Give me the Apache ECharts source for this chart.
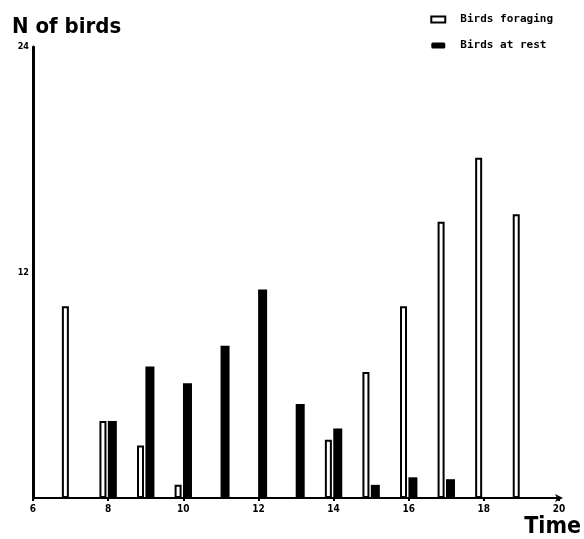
<!DOCTYPE html>
<html><head><meta charset="utf-8">
<script src="https://cdn.jsdelivr.net/npm/echarts@6/dist/echarts.min.js"></script>
<style>html,body{margin:0;padding:0;background:#fff}#c{width:584px;height:539px}</style>
</head><body><div id="c"></div>
<script>
const hours = [7, 8, 9, 10, 11, 12, 13, 14, 15, 16, 17, 18, 19];
const foraging = [10.2, 4.1, 2.8, 0.7, null, null, null, 3.1, 6.7, 10.2, 14.7, 18.1, 15.1];
const atRest = [null, 4.1, 7.0, 6.1, 8.1, 11.1, 5.0, 3.7, 0.7, 1.1, 1.0, null, null];
const xTicks = [6, 8, 10, 12, 14, 16, 18, 20];
const yTicks = [12, 24];

const chart = echarts.init(document.getElementById('c'), null, {renderer: 'canvas'});
const pair = (arr) => hours.map((h, i) => arr[i] == null ? null : [h, arr[i]]).filter(d => d);
const narrow = "'Liberation Sans Narrow','DejaVu Sans Condensed','Roboto Condensed',sans-serif";
chart.setOption({
  animation: false,
  backgroundColor: '#fff',
  title: {
    text: 'N of birds', left: 7, top: 11,
    textStyle: {fontFamily: narrow, fontWeight: 'bold', fontSize: 22, color: '#000'}
  },
  legend: {
    orient: 'vertical', right: 26, top: 9, itemWidth: 14, itemHeight: 6, itemGap: 15,
    textStyle: {fontFamily: 'DejaVu Sans Mono', fontWeight: 'bold', fontSize: 11, color: '#000', padding: [0, 0, 0, 10]},
    data: [
      {name: 'Birds foraging', icon: 'rect', itemStyle: {color: '#fff', borderColor: '#000', borderWidth: 2}},
      {name: 'Birds at rest', icon: 'roundRect', itemStyle: {color: '#000'}}
    ]
  },
  grid: {left: 33, right: 23, top: 47, bottom: 39, containLabel: false},
  xAxis: {
    type: 'value', min: 6, max: 20, interval: 2,
    name: 'Time', nameLocation: 'end', nameGap: 0,
    nameTextStyle: {fontFamily: narrow, fontWeight: 'bold', fontSize: 23, color: '#000', verticalAlign: 'top', align: 'right', padding: [18, -22, 0, 0]},
    axisLine: {lineStyle: {color: '#000', width: 2}, symbol: ['none', 'arrow'], symbolSize: [6, 8], symbolOffset: [0, 4]},
    axisTick: {show: true, length: 3, lineStyle: {color: '#000', width: 2}},
    axisLabel: {fontFamily: 'DejaVu Sans Condensed, DejaVu Sans', fontWeight: 'bold', fontSize: 10, color: '#000', margin: 6,
      formatter: v => xTicks.includes(v) ? String(v) : ''},
    splitLine: {show: false}
  },
  yAxis: {
    type: 'value', min: 0, max: 24, interval: 12,
    axisLine: {show: true, lineStyle: {color: '#000', width: 3}},
    axisTick: {show: false},
    axisLabel: {fontFamily: 'DejaVu Sans Condensed, DejaVu Sans', fontWeight: 'bold', fontSize: 9, color: '#000', margin: 4,
      formatter: v => yTicks.includes(v) ? String(v) : ''},
    splitLine: {show: false}
  },
  series: [
    {name: 'Birds foraging', type: 'bar', data: pair(foraging), barWidth: 7, barGap: '20%',
      itemStyle: {color: '#fff', borderColor: '#000', borderWidth: 2}},
    {name: 'Birds at rest', type: 'bar', data: pair(atRest), barWidth: 9,
      itemStyle: {color: '#000', borderColor: '#000', borderWidth: 0}}
  ]
});
</script></body></html>
